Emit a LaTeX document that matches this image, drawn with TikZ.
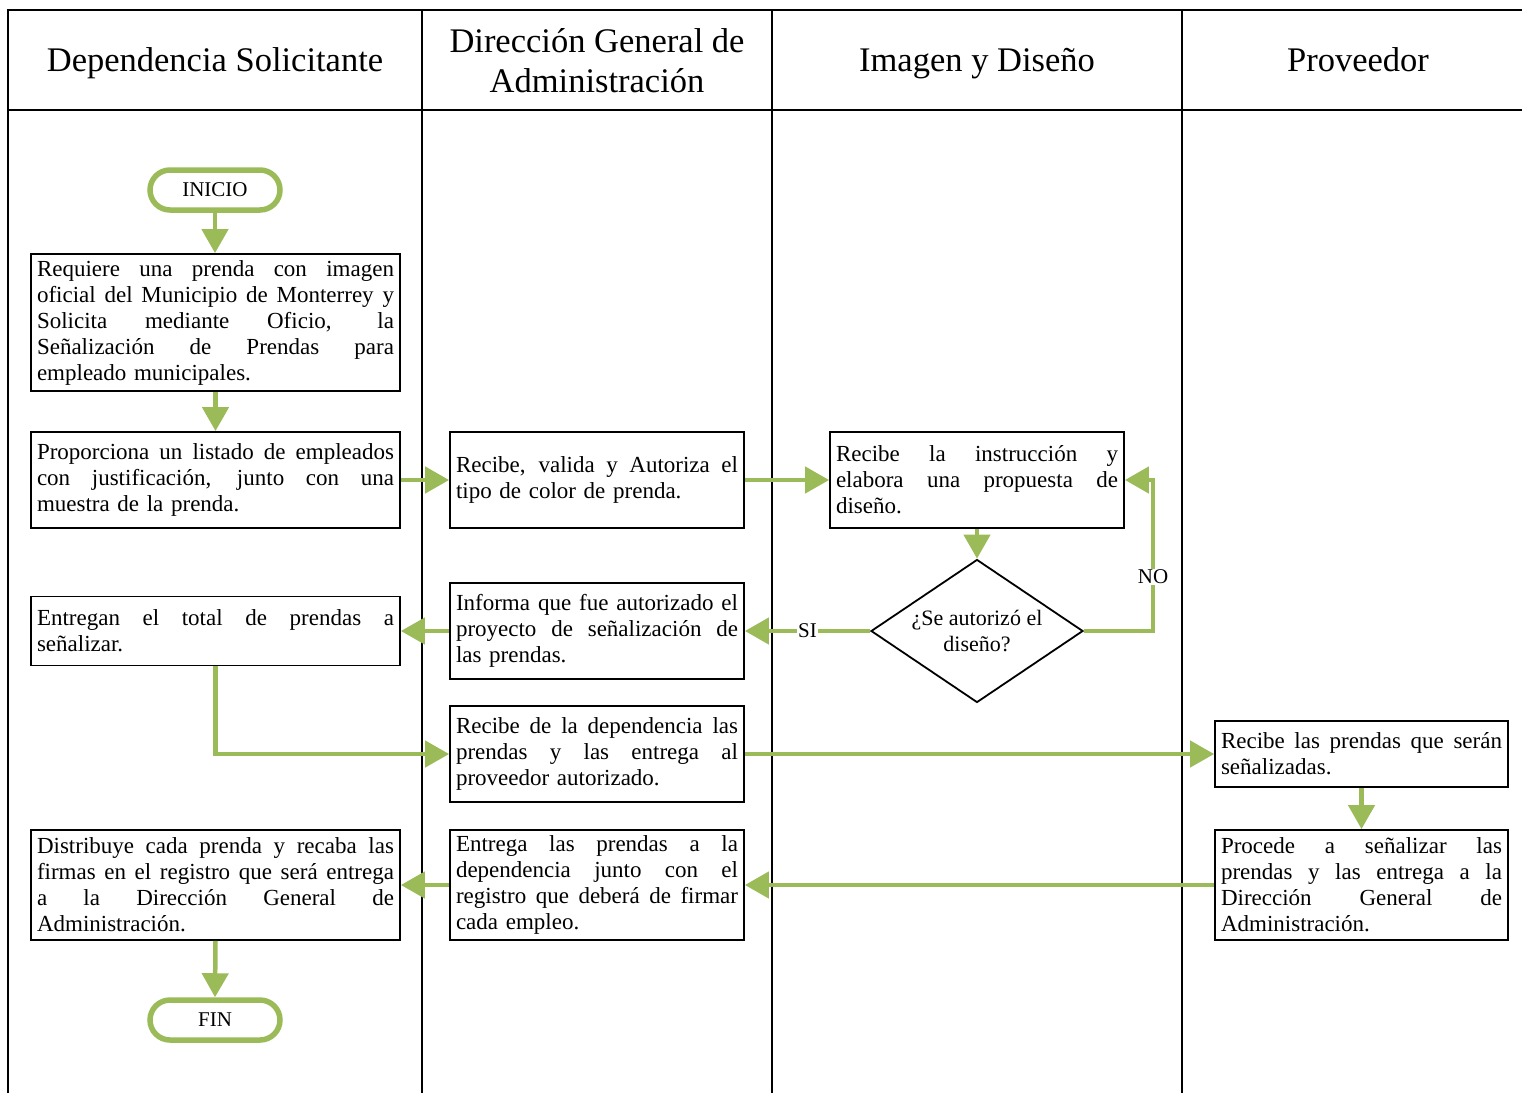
\documentclass[tikz,border=0pt]{standalone}
\usepackage{fontspec}
\setmainfont{Liberation Serif}
\usetikzlibrary{arrows.meta,shapes.geometric}
\definecolor{grn}{HTML}{9BBB59}
\newcommand\jl[1]{\makebox[\hsize][s]{\spaceskip=0pt\xspaceskip=0pt #1}\\}
\begin{document}
\begin{tikzpicture}[x=1pt,y=-1pt,
 lane/.style={line width=1.6pt},
 hdr/.style={font=\fontsize{34.5}{40}\selectfont, align=center},
 box/.style={draw, line width=1.8pt, fill=white, inner xsep=6pt, inner ysep=3pt, align=left, font=\fontsize{23}{26}\selectfont},
 term/.style={draw=grn, line width=5.5pt, fill=white, rounded corners=20pt, minimum width=130pt, minimum height=40pt, font=\fontsize{21}{26}\selectfont},
 dec/.style={draw, diamond, line width=1.8pt, fill=white, inner sep=0pt, aspect=1.48, minimum width=212pt, minimum height=143pt, align=center, font=\fontsize{22}{26}\selectfont},
 arr/.style={draw=grn, line width=4.5pt, -{Triangle[length=24pt,width=26pt]}},
 lbl/.style={fill=white, inner sep=1pt, font=\fontsize{21}{26}\selectfont}
]
\useasboundingbox (0,0) rectangle (1522,1093);
% lanes
\draw[lane] (8,1093) -- (8,10) -- (1522,10);
\draw[lane] (8,110) -- (1522,110);
\draw[lane] (422,10) -- (422,1093);
\draw[lane] (772,10) -- (772,1093);
\draw[lane] (1182,10) -- (1182,1093);
% headers
\node[hdr, anchor=base] (h1) at (215,71) {Dependencia Solicitante};
\node[hdr] (h2) at (597,61) {Dirección General de\\Administración};
\node[hdr, anchor=base] (h3) at (977,71) {Imagen y Diseño};
\node[hdr, anchor=base] (h4) at (1358,71) {Proveedor};
% nodes
\node[term] (ini) at (215,190) {INICIO};
\node[box, text width=357pt, minimum height=137pt] (b1) at (215.5,322.5)
 {\jl{Requiere una prenda con imagen}\jl{oficial del Municipio de Monterrey y}\jl{Solicita mediante Oficio, la}\jl{Señalización de Prendas para}empleado municipales.};
\node[box, text width=357pt, minimum height=96pt] (b2) at (215.5,480)
 {\jl{Proporciona un listado de empleados}\jl{con justificación, junto con una}muestra de la prenda.};
\node[box, text width=282pt, minimum height=96pt] (b3) at (597,480)
 {\jl{Recibe, valida y Autoriza el}tipo de color de prenda.};
\node[box, text width=282pt, minimum height=96pt] (b4) at (977,480)
 {\jl{Recibe la instrucción y}\jl{elabora una propuesta de}diseño.};
\node[dec] (dia) at (977,631) {¿Se autorizó el\\diseño?};
\node[box, text width=282pt, minimum height=96pt] (b5) at (597,631)
 {\jl{Informa que fue autorizado el}\jl{proyecto de señalización de}las prendas.};
\node[box, text width=357pt, minimum height=69pt] (b6) at (215.5,631)
 {\jl{Entregan el total de prendas a}señalizar.};
\node[box, text width=282pt, minimum height=96pt] (b7) at (597,754)
 {\jl{Recibe de la dependencia las}\jl{prendas y las entrega al}proveedor autorizado.};
\node[box, text width=281pt, minimum height=66pt] (b8) at (1361.5,754)
 {\jl{Recibe las prendas que serán}señalizadas.};
\node[box, text width=281pt, minimum height=110pt] (b9) at (1361.5,885)
 {\jl{Procede a señalizar las}\jl{prendas y las entrega a la}\jl{Dirección General de}Administración.};
\node[box, text width=282pt, minimum height=110pt] (b10) at (597,885)
 {\jl{Entrega las prendas a la}\jl{dependencia junto con el}\jl{registro que deberá de firmar}cada empleo.};
\node[box, text width=357pt, minimum height=110pt] (b11) at (215.5,885)
 {\jl{Distribuye cada prenda y recaba las}\jl{firmas en el registro que será entrega}\jl{a la Dirección General de}Administración.};
\node[term] (fin) at (215,1020) {FIN};
\coordinate (noX) at (1153,0);
% connectors
\draw[arr] (ini.south) -- (ini.south |- b1.north);
\draw[arr] (b1.south) -- (b2.north);
\draw[arr] (b2.east) -- (b3.west);
\draw[arr] (b3.east) -- (b4.west);
\draw[arr] (b4.south) -- (dia.north);
\draw[arr] (dia.east) -- (dia.east -| noX) -- node[lbl,pos=.36]{NO} (b4.east -| noX) -- (b4.east);
\draw[arr] (dia.west) -- node[lbl]{SI} (b5.east);
\draw[arr] (b5.west) -- (b6.east);
\draw[arr] (b6.south) |- (b7.west);
\draw[arr] (b7.east) -- (b8.west);
\draw[arr] (b8.south) -- (b9.north);
\draw[arr] (b9.west) -- (b10.east);
\draw[arr] (b10.west) -- (b11.east);
\draw[arr] (b11.south) -- (fin.north);
\end{tikzpicture}
\end{document}
